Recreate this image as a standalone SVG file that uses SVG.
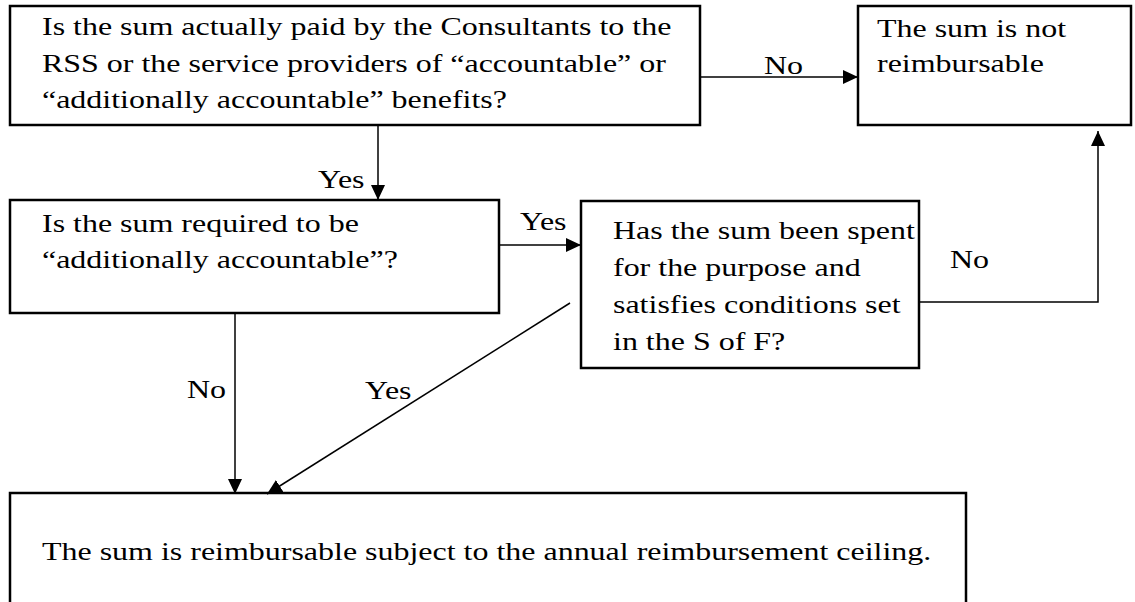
<svg xmlns="http://www.w3.org/2000/svg" width="1135" height="602" viewBox="0 0 1135 602">
<defs>
<style>
.box{fill:#fff;stroke:#000;stroke-width:2.5}
.t{font-family:"Liberation Serif","Times New Roman",serif;font-size:26px;fill:#000}
.c{fill:none;stroke:#000;stroke-width:1.5}
</style>
<marker id="ah" viewBox="0 0 15 14" refX="15" refY="7" markerWidth="15" markerHeight="14" markerUnits="userSpaceOnUse" orient="auto"><path d="M0,0 L15,7 L0,14 Z" fill="#000"/></marker>
</defs>
<g id="q1">
<rect class="box" x="10" y="6" width="690" height="119"/>
<text class="t" transform="translate(42 35) scale(1.23 1)">Is the sum actually paid by the Consultants to the</text>
<text class="t" transform="translate(42 72) scale(1.23 1)">RSS or the service providers of “accountable” or</text>
<text class="t" transform="translate(42 108) scale(1.23 1)">“additionally accountable” benefits?</text>
</g>
<g id="notreimb">
<rect class="box" x="858" y="6" width="273" height="119"/>
<text class="t" transform="translate(877 37) scale(1.23 1)">The sum is not</text>
<text class="t" transform="translate(877 72) scale(1.23 1)">reimbursable</text>
</g>
<g id="q2">
<rect class="box" x="10" y="200" width="489" height="113"/>
<text class="t" transform="translate(42 232) scale(1.23 1)">Is the sum required to be</text>
<text class="t" transform="translate(42 268) scale(1.23 1)">“additionally accountable”?</text>
</g>
<g id="q3">
<rect class="box" x="581" y="201" width="338" height="167"/>
<text class="t" transform="translate(613 239) scale(1.23 1)">Has the sum been spent</text>
<text class="t" transform="translate(613 276) scale(1.23 1)">for the purpose and</text>
<text class="t" transform="translate(613 313) scale(1.23 1)">satisfies conditions set</text>
<text class="t" transform="translate(613 350) scale(1.23 1)">in the S of F?</text>
</g>
<g id="reimb">
<rect class="box" x="10" y="493" width="956" height="130"/>
<text class="t" transform="translate(42 560) scale(1.23 1)">The sum is reimbursable subject to the annual reimbursement ceiling.</text>
</g>
<g id="connectors">
<line class="c" x1="700" y1="77" x2="858" y2="77" marker-end="url(#ah)"/>
<line class="c" x1="378" y1="125" x2="378" y2="200" marker-end="url(#ah)"/>
<line class="c" x1="499" y1="245" x2="581" y2="245" marker-end="url(#ah)"/>
<polyline class="c" points="919,302 1098,302 1098,131" marker-end="url(#ah)"/>
<line class="c" x1="235" y1="313" x2="235" y2="494" marker-end="url(#ah)"/>
<line class="c" x1="570" y1="303" x2="267" y2="494" marker-end="url(#ah)"/>
<text class="t" transform="translate(764 74) scale(1.23 1)">No</text>
<text class="t" transform="translate(318 188) scale(1.23 1)">Yes</text>
<text class="t" transform="translate(520 230) scale(1.23 1)">Yes</text>
<text class="t" transform="translate(950 268) scale(1.23 1)">No</text>
<text class="t" transform="translate(187 398) scale(1.23 1)">No</text>
<text class="t" transform="translate(365 399) scale(1.23 1)">Yes</text>
</g>
</svg>
